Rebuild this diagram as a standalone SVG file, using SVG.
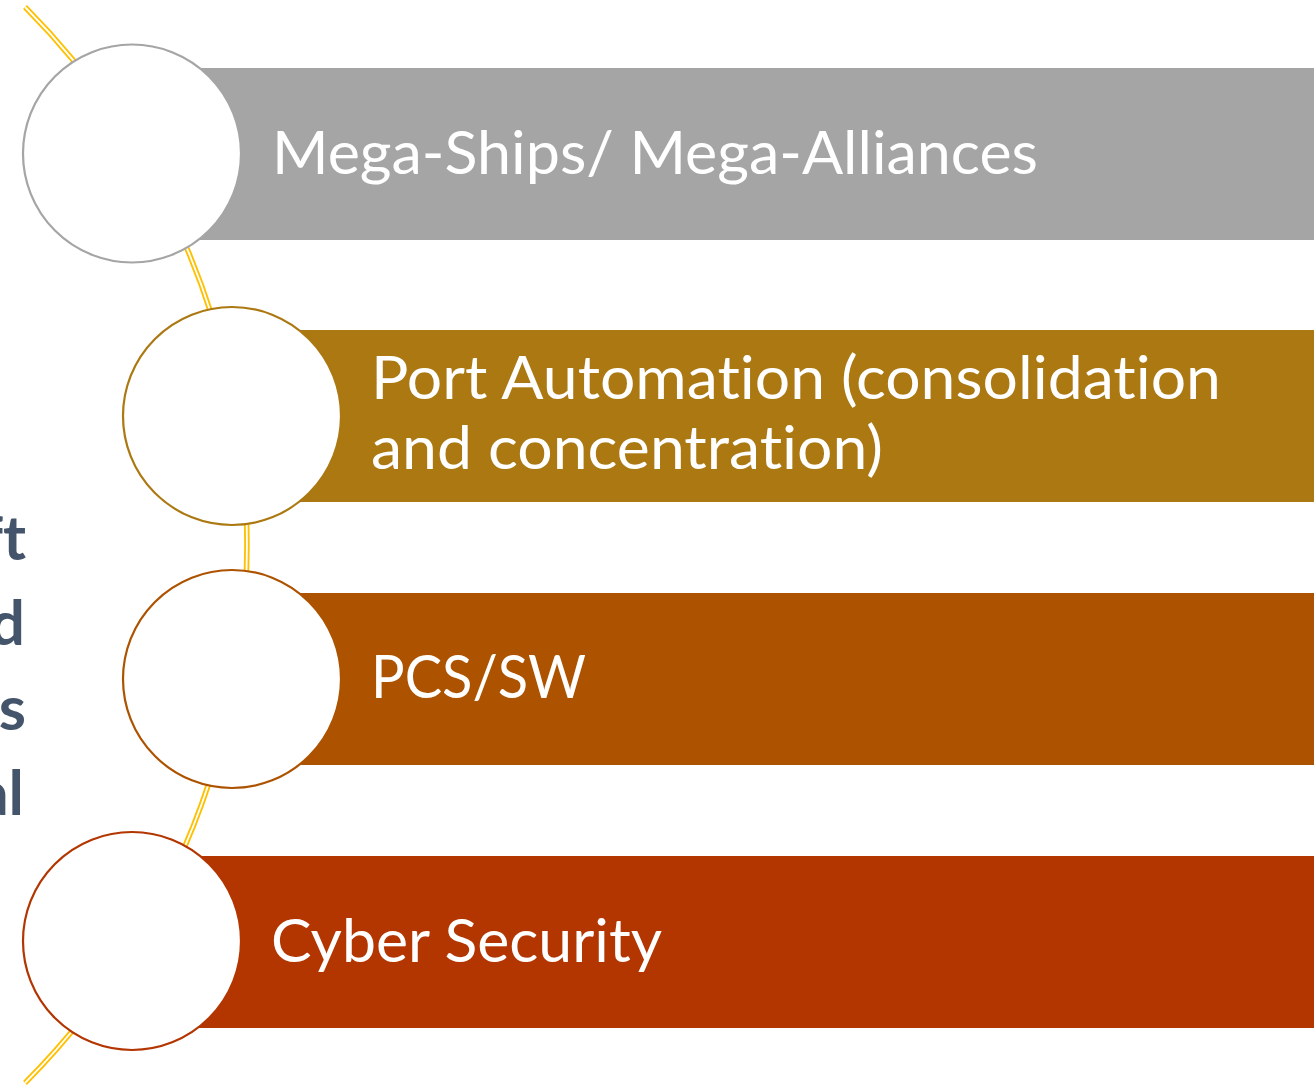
<svg xmlns="http://www.w3.org/2000/svg" width="1314" height="1088" viewBox="0 0 1314 1088">
<style>
.bg{fill:#FFFFFF}
.arc{fill:none;stroke:#FFC000;stroke-width:5.5}
.arcgap{fill:none;stroke:#FFFFFF;stroke-width:1.8}
.node circle{fill:#FFFFFF;stroke-width:2.2}
.label{font-family:"Lato","Liberation Sans",sans-serif;font-size:60px;fill:#FFFFFF;font-variant-ligatures:none}
.side{font-family:"Lato","Liberation Sans",sans-serif;font-size:62px;font-weight:bold;fill:#44546A;font-variant-ligatures:none}
</style>
<rect class="bg" x="0" y="0" width="1314" height="1088"/>
<g id="side-text">
<text class="side" x="26" y="560" text-anchor="end">ft</text>
<text class="side" x="25" y="645" text-anchor="end">d</text>
<text class="side" x="26" y="730" text-anchor="end">s</text>
<text class="side" x="24" y="815" text-anchor="end">al</text>
</g>
<g id="connectors">
<path class="arc" d="M 25 7 A 763 763 0 0 1 25 1083"/>
<path class="arcgap" d="M 25 7 A 763 763 0 0 1 25 1083"/>
</g>
<g id="node-1" class="node">
<rect x="132" y="68" width="1182" height="172" fill="#A5A5A5"/>
<circle cx="132" cy="153.5" r="109" stroke="#A5A5A5"/>
<text class="label" x="272" y="174" textLength="766" lengthAdjust="spacingAndGlyphs">Mega-Ships/ Mega-Alliances</text>
</g>
<g id="node-2" class="node">
<rect x="232" y="330" width="1082" height="172" fill="#AB7811"/>
<circle cx="232" cy="416" r="109" stroke="#AB7811"/>
<text class="label" x="371" y="399" textLength="850" lengthAdjust="spacingAndGlyphs">Port Automation (consolidation</text>
<text class="label" x="371" y="469" textLength="512" lengthAdjust="spacingAndGlyphs">and concentration)</text>
</g>
<g id="node-3" class="node">
<rect x="232" y="593" width="1082" height="172" fill="#AD5300"/>
<circle cx="232" cy="679" r="109" stroke="#AD5300"/>
<text class="label" x="371" y="698" textLength="215" lengthAdjust="spacingAndGlyphs">PCS/SW</text>
</g>
<g id="node-4" class="node">
<rect x="132" y="856" width="1182" height="172" fill="#B33500"/>
<circle cx="132" cy="941" r="109" stroke="#B33500"/>
<text class="label" x="271" y="962" textLength="391" lengthAdjust="spacingAndGlyphs">Cyber Security</text>
</g>
</svg>
